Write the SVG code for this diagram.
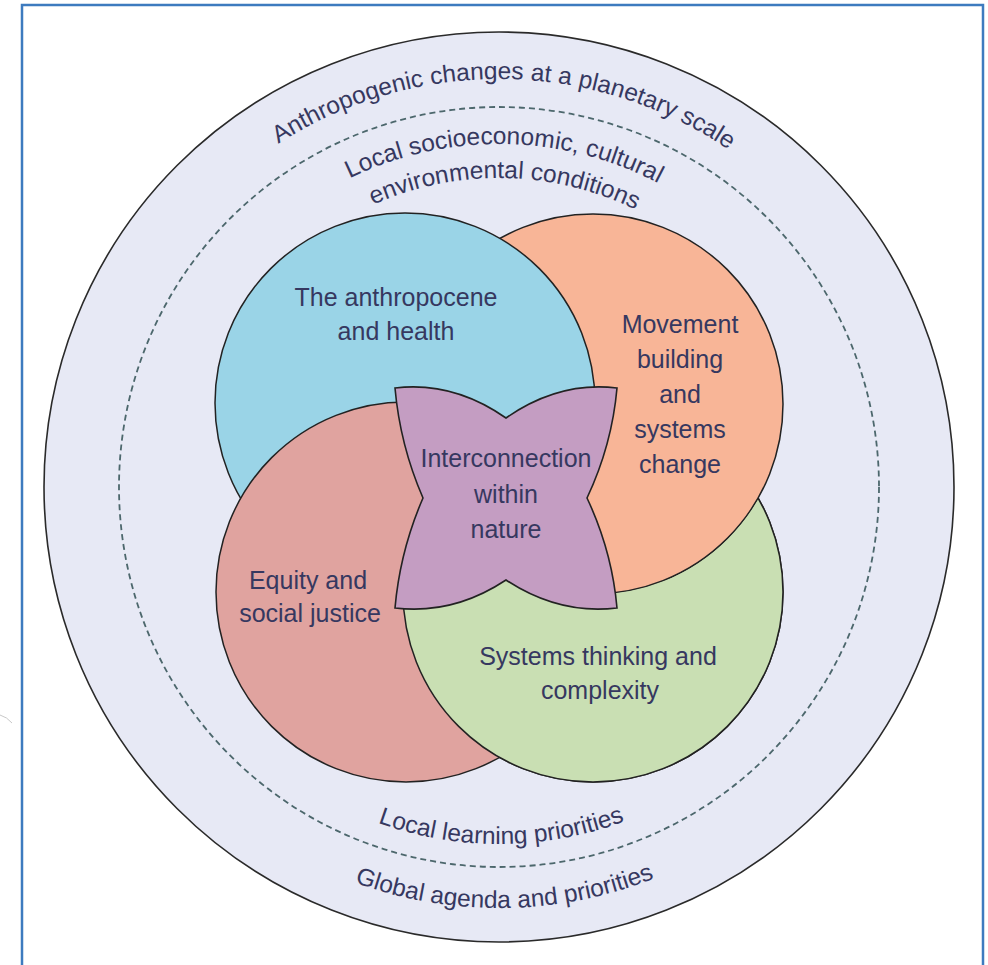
<svg xmlns="http://www.w3.org/2000/svg" width="988" height="965" viewBox="0 0 988 965">
  <style>
    .lbl { font-family: "Liberation Sans", Arial, sans-serif; font-size: 25px; fill: #363860; }
    .arc { font-size: 24.5px; }
    .mid { text-anchor: middle; }
    .ring { stroke: #2a2a2a; stroke-width: 1.6; }
    .venn { stroke: #222; stroke-width: 1.5; }
  </style>
  <defs>
    <path id="arcTop1" d="M91,487 A408,408 0 0 1 907,487"/>
    <path id="arcTop2" d="M156,487 A343,343 0 0 1 842,487"/>
    <path id="arcTop3" d="M190,487 A309,309 0 0 1 808,487"/>
    <path id="arcBot1" d="M142,487 A357,357 0 0 0 856,487"/>
    <path id="arcBot2" d="M78,487 A421,421 0 0 0 920,487"/>
    <mask id="noOrange" maskUnits="userSpaceOnUse" x="0" y="0" width="988" height="965">
      <rect x="0" y="0" width="988" height="965" fill="#fff"/>
      <circle cx="593" cy="404" r="191" fill="#000"/>
    </mask>
  </defs>

  <!-- frame -->
  <path d="M22,965 V5 H983 V965" fill="none" stroke="#3d7bbf" stroke-width="2.5"/>
  <path d="M0,715 Q7,717 12,723" fill="none" stroke="#c8c8c8" stroke-width="1"/>

  <g id="outer-ring">
    <circle cx="499" cy="487" r="455" fill="#e7e9f5" class="ring"/>
  </g>
  <g id="local-ring">
    <circle cx="499" cy="487" r="380" fill="none" stroke="#4c676c" stroke-width="1.8" stroke-dasharray="6 4"/>
  </g>

  <g id="ring-labels">
    <text class="lbl arc mid"><textPath href="#arcTop1" startOffset="646">Anthropogenic changes at a planetary scale</textPath></text>
    <text class="lbl arc mid"><textPath href="#arcTop2" startOffset="544">Local socioeconomic, cultural</textPath></text>
    <text class="lbl arc mid"><textPath href="#arcTop3" startOffset="491">environmental conditions</textPath></text>
    <text class="lbl arc mid"><textPath href="#arcBot1" startOffset="563">Local learning priorities</textPath></text>
    <text class="lbl arc mid"><textPath href="#arcBot2" startOffset="667">Global agenda and priorities</textPath></text>
  </g>

  <g id="systems-thinking">
    <circle cx="593" cy="592" r="190" fill="#c9dfb3" class="venn"/>
  </g>
  <g id="movement-building">
    <circle cx="593" cy="404" r="190" fill="#f8b597" class="venn"/>
  </g>
  <g id="anthropocene-health">
    <circle cx="405" cy="403" r="190" fill="#9ad4e7" class="venn"/>
  </g>
  <g id="equity-justice">
    <circle cx="406" cy="592" r="190" fill="#e0a39f" class="venn"/>
  </g>
  <g id="systems-thinking-overlap">
    <circle cx="593" cy="592" r="190" fill="#c9dfb3" class="venn" mask="url(#noOrange)"/>
  </g>

  <g id="interconnection">
    <path d="M395,388 Q453,381 506,418 Q559,381 617,388 Q612,445 587,498 Q612,551 617,608 Q559,615 506,580 Q453,615 395,608 Q400,551 423,498 Q400,445 395,388 Z" fill="#c49dc2" stroke="#222" stroke-width="1.6" stroke-linejoin="miter"/>
  </g>

  <g id="labels">
    <text class="lbl mid" x="396" y="306">The anthropocene</text>
    <text class="lbl mid" x="396" y="340">and health</text>
    <text class="lbl mid" x="680" y="333">Movement</text>
    <text class="lbl mid" x="680" y="368">building</text>
    <text class="lbl mid" x="680" y="403">and</text>
    <text class="lbl mid" x="680" y="438">systems</text>
    <text class="lbl mid" x="680" y="473">change</text>
    <text class="lbl mid" x="506" y="467">Interconnection</text>
    <text class="lbl mid" x="506" y="503">within</text>
    <text class="lbl mid" x="506" y="538">nature</text>
    <text class="lbl mid" x="308" y="589">Equity and</text>
    <text class="lbl mid" x="310" y="622">social justice</text>
    <text class="lbl mid" x="598" y="665">Systems thinking and</text>
    <text class="lbl mid" x="600" y="699">complexity</text>
  </g>
</svg>
